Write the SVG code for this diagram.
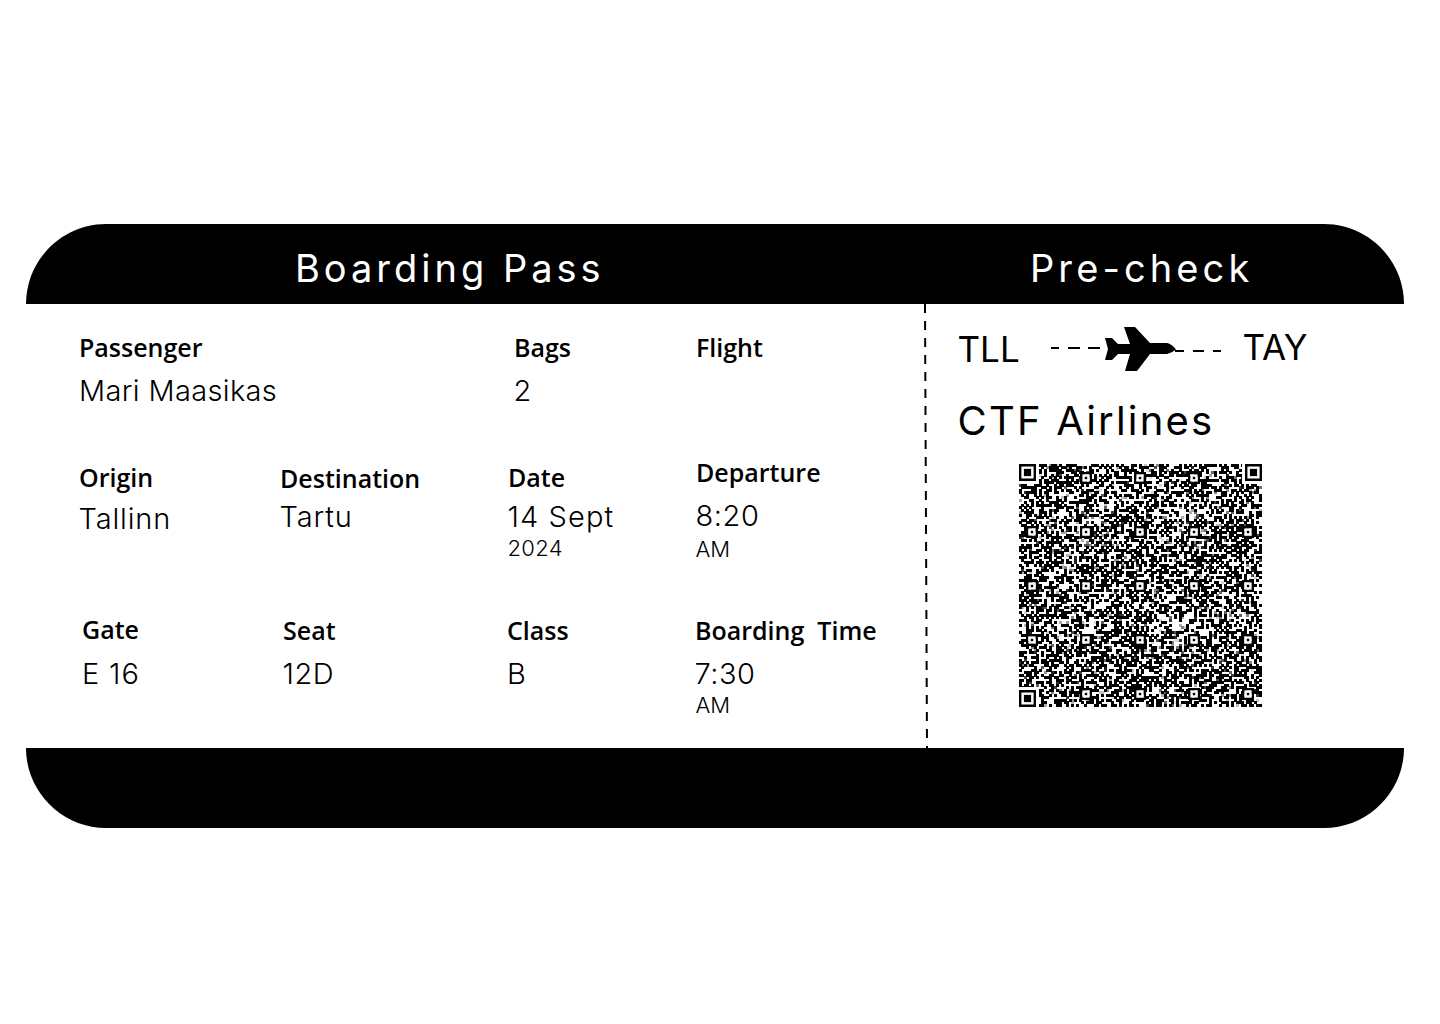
<svg xmlns="http://www.w3.org/2000/svg" width="1440" height="1024" viewBox="0 0 1440 1024">
<style>
.h{font-family:"Inter","Roboto",sans-serif;font-weight:400;fill:#fff;font-size:38px;letter-spacing:4px}
.l{font-family:"Open Sans",sans-serif;font-weight:600;font-size:25px;fill:#000}
.v{font-family:"Inter","Roboto",sans-serif;font-weight:300;font-size:29px;fill:#000;letter-spacing:.85px}
.s{font-family:"Inter","Roboto",sans-serif;font-weight:300;font-size:22px;fill:#000;letter-spacing:.3px}
.r{font-family:"Inter","Roboto",sans-serif;font-weight:400;font-size:35px;fill:#000}
</style>
<defs>
<filter id="noise" x="0" y="0" width="100%" height="100%" color-interpolation-filters="sRGB">
<feTurbulence type="fractalNoise" baseFrequency="0.61" numOctaves="2" seed="7" result="n"/>
<feColorMatrix in="n" type="matrix" values="0 0 0 0 0 0 0 0 0 0 0 0 0 0 0 40 0 0 0 -20" result="a"/>
<feFlood flood-color="#000" x="1" y="1" width="1" height="1" result="p1"/>
<feFlood flood-color="#000" x="3" y="1" width="1" height="1" result="p2"/>
<feFlood flood-color="#000" x="1" y="3" width="1" height="1" result="p3"/>
<feFlood flood-color="#000" x="3" y="3" width="1" height="1" result="p4"/>
<feMerge x="0" y="0" width="5" height="5" result="c"><feMergeNode in="p1"/><feMergeNode in="p2"/><feMergeNode in="p3"/><feMergeNode in="p4"/></feMerge>
<feTile in="c" x="0" y="0" width="243" height="243" result="g"/>
<feComposite in="a" in2="g" operator="in" result="p"/>
<feMorphology in="p" operator="dilate" radius="1"/>
</filter>
<g id="finder"><path fill-rule="evenodd" d="M0 0h17v17H0zM2.400 2.400v12.200h12.200V2.400z"/><rect x="4.900" y="4.900" width="7.200" height="7.200"/></g>
<g id="align"><path fill-rule="evenodd" d="M-6-6h12v12h-12zM-3.600-3.600v7.200h7.200v-7.200z" fill="#000"/><rect x="-3.600" y="-3.600" width="7.200" height="7.200" fill="#fff"/><rect x="-1.200" y="-1.200" width="2.400" height="2.400"/></g>
</defs>
<rect width="1440" height="1024" fill="#fff"/>
<g id="ticket">
<path id="header" d="M26 304C26 260 62 224 106 224H1324C1368 224 1404 260 1404 304Z"/>
<path id="footer" d="M26 748C26 792 62 828 106 828H1324C1368 828 1404 792 1404 748Z"/>
<text class="h" x="295" y="282">Boarding Pass</text>
<text class="h" x="1030" y="282" style="letter-spacing:4.100px">Pre-check</text>
</g>
<g id="connectors" fill="none" stroke="#000" stroke-width="2">
<path d="M925 304L927 748" stroke-dasharray="9 8"/>
<path d="M1051 348h8M1068 348h12M1088 348h12M1175 351h9M1193 351h11M1213 351h8"/>
</g>
<g id="passenger"><text class="l" x="79" y="357">Passenger</text><text class="v" x="79" y="401" style="letter-spacing:.35px">Mari Maasikas</text></g>
<g id="bags"><text class="l" x="514" y="357">Bags</text><text class="v" x="513.500" y="401">2</text></g>
<g id="flight"><text class="l" x="696" y="357">Flight</text></g>
<g id="origin"><text class="l" x="79" y="487">Origin</text><text class="v" x="78.500" y="529">Tallinn</text></g>
<g id="destination"><text class="l" x="280" y="488">Destination</text><text class="v" x="279.500" y="527">Tartu</text></g>
<g id="date"><text class="l" x="508" y="487">Date</text><text class="v" x="507.500" y="527" style="letter-spacing:1.100px">14 Sept</text><text class="s" x="507.500" y="556">2024</text></g>
<g id="departure"><text class="l" x="696" y="482">Departure</text><text class="v" x="695.500" y="526" style="letter-spacing:.6px">8:20</text><text class="s" x="695.500" y="557" style="letter-spacing:0">AM</text></g>
<g id="gate"><text class="l" x="82" y="639">Gate</text><text class="v" x="82" y="684">E 16</text></g>
<g id="seat"><text class="l" x="283" y="640">Seat</text><text class="v" x="282.500" y="684" style="letter-spacing:.5px">12D</text></g>
<g id="class"><text class="l" x="507" y="640">Class</text><text class="v" x="507" y="684">B</text></g>
<g id="boarding-time"><text class="l" x="695" y="640" xml:space="preserve">Boarding  Time</text><text class="v" x="694.500" y="684" style="letter-spacing:.5px">7:30</text><text class="s" x="695.500" y="713" style="letter-spacing:0">AM</text></g>
<g id="route">
<text class="r" x="957.500" y="362">TLL</text>
<text class="r" x="1242.500" y="360">TAY</text>
<path id="plane" d="M1124 327H1135L1150 343H1167Q1172 344 1176 349.500Q1172 353 1167 354H1150L1137 371H1125L1130 354H1118L1112 360H1105L1108 349L1105 338H1112L1118 344H1130Z"/>
<text class="r" x="957.500" y="435" style="font-size:40px;letter-spacing:2.200px">CTF Airlines</text>
</g>
<g id="qr">
<rect x="1019" y="464" width="243" height="243" fill="#fff"/>
<g transform="translate(1019 464)"><rect width="243" height="243" fill="#000" filter="url(#noise)"/></g>
<rect x="1019" y="464" width="20" height="20" fill="#fff"/><rect x="1242" y="464" width="20" height="20" fill="#fff"/><rect x="1019" y="687" width="20" height="20" fill="#fff"/>
<use href="#finder" x="1019" y="464"/><use href="#finder" x="1245" y="464"/><use href="#finder" x="1019" y="690"/>
<use href="#align" x="1086" y="478"/><use href="#align" x="1140" y="478"/><use href="#align" x="1194" y="478"/>
<use href="#align" x="1032" y="532"/><use href="#align" x="1086" y="532"/><use href="#align" x="1140" y="532"/><use href="#align" x="1194" y="532"/><use href="#align" x="1248" y="532"/>
<use href="#align" x="1032" y="586"/><use href="#align" x="1086" y="586"/><use href="#align" x="1140" y="586"/><use href="#align" x="1194" y="586"/><use href="#align" x="1248" y="586"/>
<use href="#align" x="1032" y="640"/><use href="#align" x="1086" y="640"/><use href="#align" x="1140" y="640"/><use href="#align" x="1194" y="640"/><use href="#align" x="1248" y="640"/>
<use href="#align" x="1086" y="694"/><use href="#align" x="1140" y="694"/><use href="#align" x="1194" y="694"/><use href="#align" x="1248" y="694"/>
</g>
</svg>
